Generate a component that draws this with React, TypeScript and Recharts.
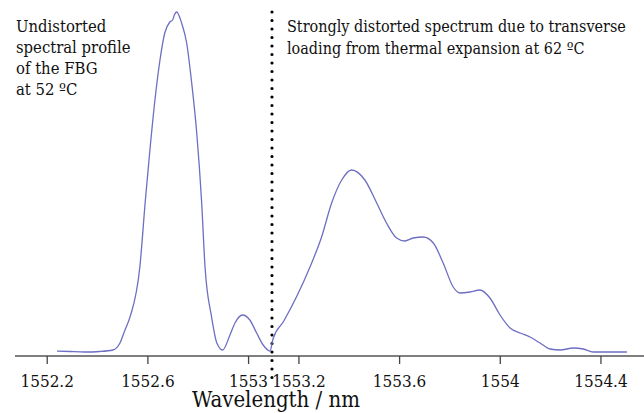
import React from 'react';
import { LineChart, Line, XAxis, YAxis, ReferenceLine } from 'recharts';

const wavelengths = [
  1552.239, 1552.29, 1552.35, 1552.409, 1552.461, 1552.489, 1552.509, 1552.529,
  1552.568, 1552.59, 1552.608, 1552.628, 1552.648, 1552.667, 1552.687, 1552.698,
  1552.705, 1552.714, 1552.734, 1552.754, 1552.774, 1552.794, 1552.813, 1552.827,
  1552.853, 1552.874, 1552.897, 1552.926, 1552.946, 1552.976, 1553.005, 1553.032,
  1553.058, 1553.085, 1553.097, 1553.14, 1553.192, 1553.244, 1553.29, 1553.33,
  1553.37, 1553.409, 1553.462, 1553.509, 1553.548, 1553.588, 1553.621, 1553.654,
  1553.694, 1553.734, 1553.773, 1553.813, 1553.84, 1553.88, 1553.919, 1553.959,
  1553.999, 1554.039, 1554.079, 1554.118, 1554.158, 1554.198, 1554.238, 1554.29,
  1554.33, 1554.369, 1554.448, 1554.503,
];

const intensity = [
  5, 4.5, 4, 4.5, 6, 13, 26, 39,
  89, 156, 206, 256, 296, 323, 334, 336,
  341, 344, 333, 313, 273, 223, 156, 89,
  39, 13, 6, 21, 33, 41, 36, 23,
  11, 5, 17, 35, 60, 89, 119, 153,
  176, 186, 176, 153, 133, 118, 115, 118,
  119, 113, 93, 69, 63, 64, 66, 58,
  41, 28, 23, 19, 13, 7, 6, 8,
  7, 4, 4, 4,
];

const xTicks = [1552.2, 1552.6, 1553, 1553.2, 1553.6, 1554, 1554.4];
const xDomain = [1552.072, 1554.571];
const yDomain = [0, 356];
const dividerWavelength = 1553.093;
const dividerRange = [344, -28];

const leftNote = ['Undistorted', 'spectral profile', 'of the FBG', 'at 52 ºC'];
const rightNote = [
  'Strongly distorted spectrum due to transverse',
  'loading from thermal expansion at 62 ºC',
];
const axisTitle = 'Wavelength / nm';

const data = wavelengths.map((w, i) => ({ w, v: intensity[i] }));

const FONT = "'DejaVu Serif Condensed', 'DejaVu Serif', serif";
const textStyle = (size: number): React.CSSProperties => ({
  fontFamily: FONT,
  fontStretch: 'condensed',
  fontSize: size,
});

const Tick = (props: any) => {
  const { x, payload } = props;
  return (
    <text x={x} y={387} textAnchor="middle" style={textStyle(17)} fill="#111">
      {String(payload.value)}
    </text>
  );
};

const DottedShape = (props: any) => {
  const { x1, y1, x2, y2 } = props;
  return (
    <line
      x1={x1}
      y1={y1}
      x2={x2}
      y2={y2}
      stroke="#000"
      strokeWidth={3.2}
      strokeDasharray="0 8.5"
      strokeLinecap="round"
    />
  );
};

export default function App() {
  return (
    <div style={{ position: 'absolute', left: 0, top: 0, width: 644, height: 413, background: '#fff' }}>
      <LineChart width={644} height={413} data={data} margin={{ top: 0, right: 0, left: 15, bottom: 0 }}>
        <XAxis
          dataKey="w"
          type="number"
          domain={xDomain}
          ticks={xTicks}
          allowDataOverflow
          height={57}
          stroke="#555"
          strokeWidth={1.6}
          tickSize={8}
          tickLine={{ stroke: '#444', strokeWidth: 1.3 }}
          tick={<Tick />}
          label={() => (
            <text x={276} y={407} textAnchor="middle" style={textStyle(22)} fill="#111">
              {axisTitle}
            </text>
          )}
        />
        <YAxis hide domain={yDomain} type="number" allowDataOverflow />
        <ReferenceLine
          segment={[
            { x: dividerWavelength, y: dividerRange[0] },
            { x: dividerWavelength, y: dividerRange[1] },
          ]}
          ifOverflow="visible"
          shape={<DottedShape />}
        />
        <Line
          type="monotone"
          dataKey="v"
          stroke="#6e6ec2"
          strokeWidth={1.3}
          dot={false}
          isAnimationActive={false}
        />
      </LineChart>
      <svg width={644} height={413} style={{ position: 'absolute', left: 0, top: 0, pointerEvents: 'none' }}>
        {leftNote.map((t, i) => (
          <text key={t} x={16} y={32 + i * 21} style={textStyle(16.5)} fill="#111">
            {t}
          </text>
        ))}
        {rightNote.map((t, i) => (
          <text key={t} x={287} y={32 + i * 21.5} style={textStyle(16)} fill="#111">
            {t}
          </text>
        ))}
      </svg>
    </div>
  );
}
